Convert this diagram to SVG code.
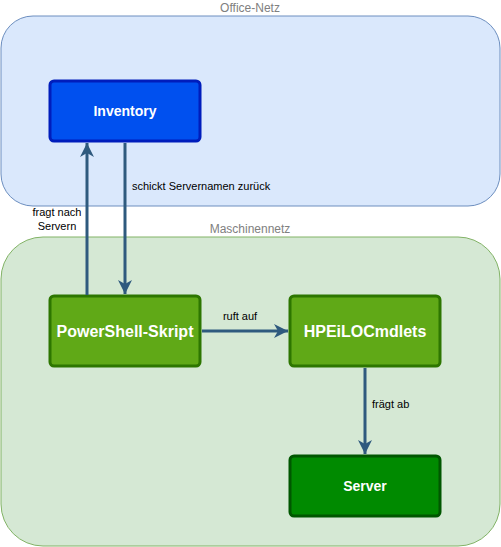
<svg xmlns="http://www.w3.org/2000/svg" width="501" height="547" viewBox="0 0 501 547">
<style>
.grp{font-family:"Liberation Sans",Arial,sans-serif;font-size:12px;fill:#808080;text-anchor:middle}
.node text{font-family:"Liberation Sans",Arial,sans-serif;font-weight:bold;fill:#ffffff;text-anchor:middle}
.edge{stroke:#2f5a7e;stroke-width:3;fill:none}
.lbl{font-family:"Liberation Sans",Arial,sans-serif;font-size:11px;fill:#000000}
</style>
<defs>
<marker id="arr" markerUnits="userSpaceOnUse" viewBox="-15 -8 16 16" refX="0" refY="0" markerWidth="16" markerHeight="16" orient="auto">
<path d="M0,0 L-14,-7 L-10,0 L-14,7 Z" fill="#2f5a7e"/>
</marker>
</defs>
<g id="office-netz">
<rect x="1" y="16" width="499" height="190" rx="32" fill="#dae8fc" stroke="#6c8ebf"/>
<text class="grp" x="250" y="12">Office-Netz</text>
</g>
<g id="maschinennetz">
<rect x="1" y="237" width="499" height="309" rx="42" fill="#d5e8d4" stroke="#82b366"/>
<text class="grp" x="250" y="233">Maschinennetz</text>
</g>
<g id="inventory" class="node">
<rect x="50" y="81" width="150" height="60" rx="4" fill="#0050ef" stroke="#001dbc" stroke-width="3"/>
<text x="125" y="116" font-size="14">Inventory</text>
</g>
<g id="powershell" class="node">
<rect x="50" y="296" width="150" height="70" rx="4" fill="#60a917" stroke="#2d7600" stroke-width="3"/>
<text x="125" y="337" font-size="16">PowerShell-Skript</text>
</g>
<g id="hpeilo" class="node">
<rect x="290" y="296" width="150" height="70" rx="4" fill="#60a917" stroke="#2d7600" stroke-width="3"/>
<text x="365" y="337" font-size="16">HPEiLOCmdlets</text>
</g>
<g id="server" class="node">
<rect x="290" y="456" width="150" height="60" rx="4" fill="#008a00" stroke="#005700" stroke-width="3"/>
<text x="365" y="491" font-size="14">Server</text>
</g>
<g id="connectors">
<line class="edge" x1="87" y1="295" x2="87" y2="143" marker-end="url(#arr)"/>
<line class="edge" x1="125" y1="143" x2="125" y2="294" marker-end="url(#arr)"/>
<line class="edge" x1="202" y1="331" x2="288" y2="331" marker-end="url(#arr)"/>
<line class="edge" x1="365" y1="368" x2="365" y2="454" marker-end="url(#arr)"/>
<text class="lbl" x="132" y="190">schickt Servernamen zurück</text>
<text class="lbl" x="57" y="216" text-anchor="middle">fragt nach</text>
<text class="lbl" x="57" y="230" text-anchor="middle">Servern</text>
<text class="lbl" x="240" y="320" text-anchor="middle">ruft auf</text>
<text class="lbl" x="372" y="408">frägt ab</text>
</g>
</svg>
